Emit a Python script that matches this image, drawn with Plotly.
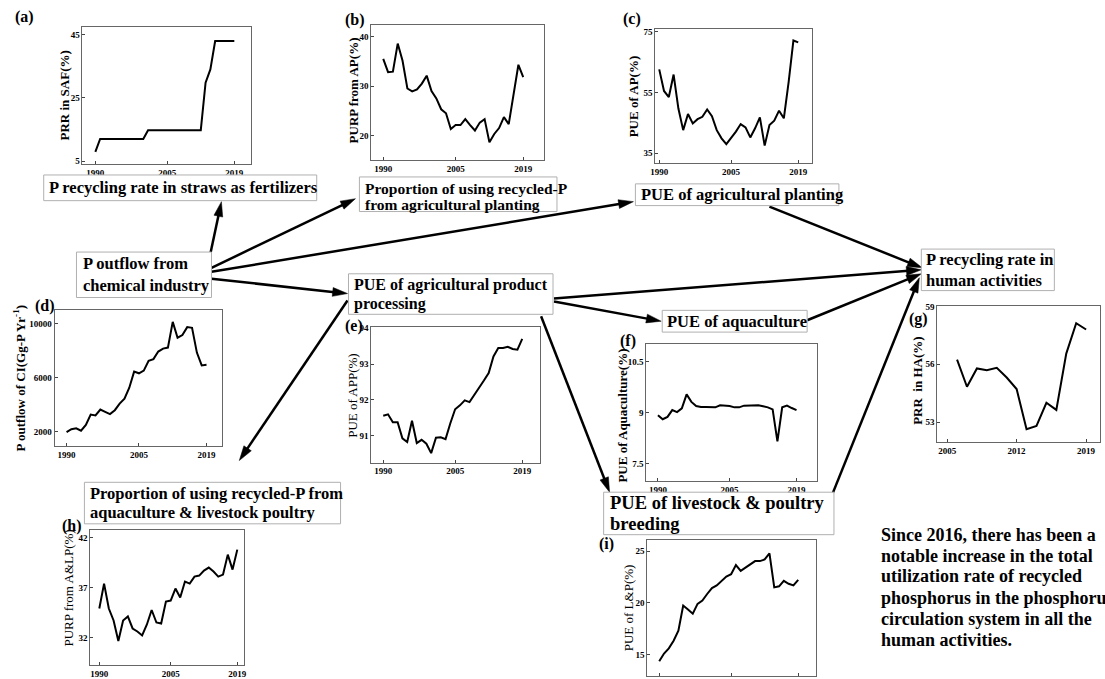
import math
import plotly.graph_objects as go

W, H = 1105, 679

# ---------------- data ----------------
years = [1990, 1991, 1992, 1993, 1994, 1995, 1996, 1997, 1998, 1999,
         2000, 2001, 2002, 2003, 2004, 2005, 2006, 2007, 2008, 2009,
         2010, 2011, 2012, 2013, 2014, 2015, 2016, 2017, 2018, 2019]
years_g = [2006, 2007, 2008, 2009, 2010, 2011, 2012, 2013, 2014, 2015, 2016, 2017, 2018, 2019]

prr_saf = [7.9, 12.0, 12.0, 12.0, 12.0, 12.0, 12.0, 12.0, 12.0, 12.0,
           12.0, 14.8, 14.8, 14.8, 14.8, 14.8, 14.8, 14.8, 14.8, 14.8,
           14.8, 14.8, 14.8, 29.8, 34.0, 43.0, 43.0, 43.0, 43.0, 43.0]
purp_ap = [35.5, 32.8, 32.9, 38.6, 35.1, 29.5, 28.9, 29.3, 30.5, 32.1,
           29.0, 27.5, 25.3, 24.5, 21.3, 22.1, 22.1, 23.3, 22.1, 21.0,
           22.6, 23.3, 18.6, 20.3, 21.5, 23.7, 22.3, 28.5, 34.3, 31.8]
pue_ap = [62.6, 55.5, 53.5, 60.9, 49.7, 42.6, 47.9, 44.8, 46.2, 47.0,
          49.4, 47.2, 42.6, 39.9, 38.0, 39.9, 42.1, 44.6, 43.5, 40.2,
          43.2, 46.8, 37.5, 44.3, 45.7, 49.0, 46.5, 58.4, 72.1, 71.5]
p_outflow_ci = [1955, 2175, 2250, 2070, 2490, 3270, 3200, 3640, 3470, 3300,
                3590, 4080, 4450, 5260, 6455, 6330, 6530, 7260, 7385, 7945,
                8165, 8240, 10150, 8975, 9170, 9760, 9710, 7870, 6920, 6970]
pue_app = [91.56, 91.60, 91.38, 91.38, 90.93, 90.83, 91.42, 90.80, 90.89, 90.78,
           90.52, 90.95, 90.96, 90.91, 91.35, 91.74, 91.85, 91.99, 91.94, 92.13,
           92.34, 92.54, 92.75, 93.21, 93.45, 93.45, 93.48, 93.42, 93.40, 93.70]
pue_aq = [8.93, 8.81, 8.88, 9.08, 9.02, 9.13, 9.54, 9.32, 9.20, 9.17,
          9.17, 9.17, 9.16, 9.22, 9.22, 9.20, 9.16, 9.16, 9.21, 9.22,
          9.23, 9.22, 9.19, 9.16, 9.10, 8.16, 9.16, 9.21, 9.14, 9.08]
prr_ha = [56.24, 54.83, 55.78, 55.69, 55.81, 55.31, 54.71, 52.63, 52.80, 54.00,
          53.63, 56.55, 58.13, 57.80]
purp_alp = [34.9, 37.4, 34.9, 33.7, 31.65, 33.7, 34.1, 32.9, 32.6, 32.2,
            33.3, 34.75, 33.5, 33.4, 35.6, 35.7, 36.9, 36.0, 37.6, 37.4,
            38.1, 38.2, 38.7, 39.0, 38.6, 38.1, 38.3, 40.3, 38.8, 40.8]
pue_lp = [14.36, 15.10, 15.60, 16.34, 17.30, 19.74, 19.36, 18.95, 19.90, 20.22,
          20.86, 21.43, 21.69, 22.17, 22.55, 22.77, 23.66, 23.09, 23.41, 23.66,
          24.04, 24.04, 24.20, 24.78, 21.50, 21.60, 22.13, 21.85, 21.69, 22.23]

xticks_main = [1990, 2005, 2019]
xticks_g = [2005, 2012, 2019]
yticks_a = [5, 25, 45]
yticks_b = [20, 30, 40]
yticks_c = [35, 55, 75]
yticks_d = [2000, 6000, 10000]
yticks_e = [91, 92, 93, 94]
yticks_f = [7.5, 9, 10.5]
yticks_g = [53, 56, 59]
yticks_h = [32, 37, 42]
yticks_i = [15, 20, 25]

FONT = "Liberation Serif"

panels = [
    dict(lab="(a)", x=years, y=prr_saf, frame=(78, 248, 22, 161), xc=(1990, 91, 2019, 231),
         yc=(45, 30, 5, 158), xt=xticks_main, yt=yticks_a, title="PRR in SAF(%)",
         tpos=(60, 92), tbold=True, lpos=(20, 12), xlab=True),
    dict(lab="(b)", x=years, y=purp_ap, frame=(369, 543, 20, 157), xc=(1990, 381, 2019, 522),
         yc=(40, 32, 20, 132), xt=xticks_main, yt=yticks_b, title="PURP from AP(%)",
         tpos=(352, 86), tbold=True, lpos=(353, 15), xlab=True),
    dict(lab="(c)", x=years, y=pue_ap, frame=(655, 813, 24, 160), xc=(1990, 659, 2019, 799),
         yc=(75, 27, 35, 150), xt=xticks_main, yt=yticks_c, title="PUE of AP(%)",
         tpos=(634, 92), tbold=True, lpos=(632, 14), xlab=True),
    dict(lab="(d)", x=years, y=p_outflow_ci, frame=(50, 219, 309, 446), xc=(1990, 62, 2019, 203),
         yc=(10000, 322.7, 2000, 431.7), xt=xticks_main, yt=yticks_d,
         title="P outflow of CI(Gg-P Yr<sup>-1</sup>)", tpos=(14, 378), tbold=True,
         lpos=(40, 305), xlab=True),
    dict(lab="(e)", x=years, y=pue_app, frame=(369, 539, 326, 463), xc=(1990, 381, 2019, 521),
         yc=(94, 327, 91, 436), xt=xticks_main, yt=yticks_e, title="PUE of APP(%)",
         tpos=(350, 395), tbold=False, lpos=(352, 325), xlab=True),
    dict(lab="(f)", x=years, y=pue_aq, frame=(646, 818, 343, 482), xc=(1990, 657.7, 2019, 797.3),
         yc=(10.5, 361, 7.5, 464.3), xt=xticks_main, yt=yticks_f,
         title="PUE of Aquaculture(%)", tpos=(622, 415), tbold=True, lpos=(628, 340), xlab=True),
    dict(lab="(g)", x=years_g, y=prr_ha, frame=(939, 1103, 305, 442), xc=(2005, 949, 2019, 1089),
         yc=(59, 305, 53, 422), xt=xticks_g, yt=yticks_g, title="PRR  in HA(%)",
         tpos=(919, 380), tbold=True, lpos=(920, 318), xlab=True),
    dict(lab="(h)", x=years, y=purp_alp, frame=(86, 241, 531, 668), xc=(1990, 95, 2019, 234),
         yc=(42, 539, 32, 640), xt=xticks_main, yt=yticks_h, title="PURP from A&LP(%)",
         tpos=(64, 590), tbold=False, lpos=(67, 527), xlab=True),
    dict(lab="(i)", x=years, y=pue_lp, frame=(647, 817, 541, 679), xc=(1990, 659, 2019, 799),
         yc=(25, 552.7, 15, 657.3), xt=xticks_main, yt=yticks_i, title="PUE of L&P(%)",
         tpos=(628, 610), tbold=False, lpos=(606, 545), xlab=False),
]


def pxx(x):
    return x / W


def pyy(y):
    return 1 - y / H


def fmt(v):
    return str(int(v)) if float(v).is_integer() else str(v)


fig = go.Figure()
layout = dict(width=W, height=H, margin=dict(l=0, r=0, t=0, b=0),
              paper_bgcolor="white", plot_bgcolor="white", showlegend=False)
annotations = []
shapes = []

for i, p in enumerate(panels, start=1):
    sfx = "" if i == 1 else str(i)
    x0, x1, y0, y1 = p["frame"]
    v0, q0, v1, q1 = p["xc"]
    kx = (v1 - v0) / (q1 - q0)
    xr = [v0 + (x0 - q0) * kx, v0 + (x1 - q0) * kx]
    w0, r0, w1, r1 = p["yc"]
    ky = (w1 - w0) / (r1 - r0)
    yr = [w0 + (y1 - r0) * ky, w0 + (y0 - r0) * ky]
    tick_font = dict(family=FONT, size=9, color="black", weight="bold")
    axcommon = dict(showgrid=False, zeroline=False, showline=True, mirror=True,
                    linecolor="#666", linewidth=1, ticks="inside", ticklen=3,
                    tickcolor="#444", tickfont=tick_font)
    layout["xaxis" + sfx] = dict(domain=[pxx(x0), pxx(x1)], range=xr, tickvals=p["xt"],
                                 ticktext=[fmt(v) for v in p["xt"]],
                                 showticklabels=p["xlab"], anchor="y" + sfx, **axcommon)
    layout["yaxis" + sfx] = dict(domain=[pyy(y1), pyy(y0)], range=yr, tickvals=p["yt"],
                                 ticktext=[fmt(v) for v in p["yt"]],
                                 anchor="x" + sfx, **axcommon)
    fig.add_trace(go.Scatter(x=p["x"], y=p["y"], mode="lines",
                             line=dict(color="black", width=2),
                             xaxis="x" + sfx, yaxis="y" + sfx))
    tx, ty = p["tpos"]
    annotations.append(dict(text=p["title"], x=pxx(tx), y=pyy(ty), xref="paper", yref="paper",
                            showarrow=False, textangle=-90, xanchor="center", yanchor="middle",
                            font=dict(family=FONT, size=13, color="black",
                                      weight="bold" if p["tbold"] else "normal")))
    lx, ly = p["lpos"]
    annotations.append(dict(text=p["lab"], x=pxx(lx), y=pyy(ly), xref="paper", yref="paper",
                            showarrow=False, xanchor="center", yanchor="middle",
                            font=dict(family=FONT, size=16, color="black", weight="bold")))

# arrows (tail -> head) in px
arrows = [
    ((207, 251), (218, 199)),
    ((208, 266), (353, 196)),
    ((208, 270), (633, 199)),
    ((208, 277), (345, 292)),
    ((770, 204), (924, 266)),
    ((553, 297), (923, 268)),
    ((553, 300), (661, 320)),
    ((808, 319), (923, 272)),
    ((540, 315), (609, 493)),
    ((833, 496), (921, 276)),
    ((345, 299), (236, 461)),
]
HL, HW = 15, 4.5
for (tx, ty), (hx, hy) in arrows:
    dx, dy = hx - tx, hy - ty
    L = math.hypot(dx, dy)
    ux, uy = dx / L, dy / L
    bx, by = hx - ux * HL, hy - uy * HL
    nx, ny = -uy, ux
    shapes.append(dict(type="line", xref="paper", yref="paper",
                       x0=pxx(tx), y0=pyy(ty), x1=pxx(bx + ux * 2), y1=pyy(by + uy * 2),
                       line=dict(color="black", width=2.5)))
    path = (f"M {pxx(hx)} {pyy(hy)} L {pxx(bx + nx * HW)} {pyy(by + ny * HW)} "
            f"L {pxx(bx - nx * HW)} {pyy(by - ny * HW)} Z")
    shapes.append(dict(type="path", xref="paper", yref="paper", path=path,
                       fillcolor="black", line=dict(color="black", width=0.5)))

boxes = [
    ((39, 172, 314, 198), 42, [(185, "P recycling rate in straws as fertilizers")], 16.5),
    ((357, 174, 556, 209), 361, [(185.5, "Proportion of using recycled-P"),
                                 (201.5, "from agricultural planting")], 15.5),
    ((635, 181, 840, 203), 639, [(192, "PUE of agricultural planting")], 16.5),
    ((72, 250, 208, 296), 77, [(262, "P outflow from"), (284, "chemical industry")], 16.5),
    ((346, 272, 552, 313), 350, [(283, "PUE of agricultural product"), (303, "processing")], 16),
    ((923, 247, 1057, 289), 926, [(258, "P recycling rate in"), (279, "human activities")], 16.5),
    ((662, 309, 808, 331), 665, [(320, "PUE of aquaculture")], 16.5),
    ((603, 493, 835, 536), 607, [(504, "PUE of livestock & poultry"), (525, "breeding")], 18.5),
    ((80, 483, 338, 525), 84, [(494, "Proportion of using recycled-P from"),
                               (514, "aquaculture & livestock poultry")], 16.5),
]
for (bx0, by0, bx1, by1), tx, lines, fs in boxes:
    shapes.append(dict(type="rect", xref="paper", yref="paper",
                       x0=pxx(bx0), y0=pyy(by1), x1=pxx(bx1), y1=pyy(by0),
                       fillcolor="white", line=dict(color="#b0b0b0", width=1)))
    for ly, t in lines:
        annotations.append(dict(text=t, x=pxx(tx), y=pyy(ly), xref="paper", yref="paper",
                                showarrow=False, xanchor="left", yanchor="middle",
                                font=dict(family=FONT, size=fs, color="black", weight="bold")))

note_lines = ["Since 2016, there has been a", "notable increase in the total",
              "utilization rate of recycled", "phosphorus in the phosphorus",
              "circulation system in all the", "human activities."]
note_y = [536.7, 557.3, 578.3, 600, 621.5, 643]
for ly, t in zip(note_y, note_lines):
    annotations.append(dict(text=t, x=pxx(880), y=pyy(ly), xref="paper", yref="paper",
                            showarrow=False, xanchor="left", yanchor="middle",
                            font=dict(family=FONT, size=18, color="black", weight="bold")))

layout["annotations"] = annotations
layout["shapes"] = shapes
fig.update_layout(**layout)
fig.write_html("out.html", config={"displayModeBar": False},
               post_script="document.body.style.margin='0';document.body.style.overflow='hidden';")
